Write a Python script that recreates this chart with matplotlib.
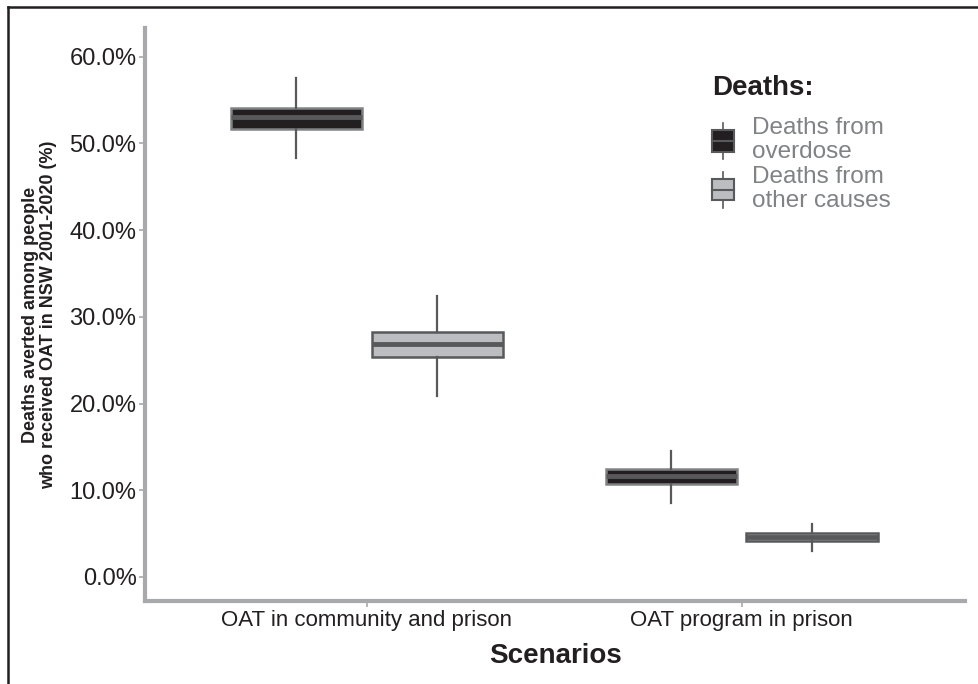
import numpy as np
import matplotlib.pyplot as plt
from matplotlib.patches import Rectangle
from matplotlib.lines import Line2D
from matplotlib.legend_handler import HandlerBase

plt.rcParams['font.family'] = ['Liberation Sans', 'DejaVu Sans']

# ---------------------------------------------------------
# Data (% deaths averted)
# ---------------------------------------------------------
scenarios = ["OAT in community and prison", "OAT program in prison"]
groups = ["Deaths from\noverdose", "Deaths from\nother causes"]

# per group: [scenario1, scenario2]
whisk_lo = [[48.3, 8.5], [20.9, 3.0]]
q1 = [[51.7, 10.7], [25.4, 4.15]]
med = [[53.0, 11.65], [26.9, 4.6]]
q3 = [[54.1, 12.5], [28.3, 5.1]]
whisk_hi = [[57.5, 14.5], [32.4, 6.1]]

fills = ["#231f20", "#bcbdc0"]
edges = ["#808285", "#58595b"]
med_col = "#58595b"
spine_col = "#a7a9ac"
txt_col = "#231f20"

fig = plt.figure(figsize=(9.79, 6.84), dpi=100)
ax = fig.add_axes([0.148, 0.121, 0.838, 0.838])

offsets = [-0.188, 0.188]
bw = 0.35
for g in range(2):
    stats = []
    for s in range(2):
        stats.append(dict(whislo=whisk_lo[g][s], q1=q1[g][s], med=med[g][s],
                          q3=q3[g][s], whishi=whisk_hi[g][s], fliers=[]))
    pos = [s + 1 + offsets[g] for s in range(2)]
    ax.bxp(stats, positions=pos, widths=bw, showcaps=False, patch_artist=True,
           boxprops=dict(facecolor=fills[g], edgecolor=edges[g], linewidth=1.8),
           medianprops=dict(color=med_col, linewidth=3.5),
           whiskerprops=dict(color=med_col, linewidth=1.6), manage_ticks=False)

ax.set_xlim(0.408, 2.597)
ax.set_ylim(-2.8, 63.3)
ax.set_xticks([1, 2])
ax.set_xticklabels(scenarios, fontsize=16, color=txt_col)
yt = np.arange(0, 61, 10)
ax.set_yticks(yt)
ax.set_yticklabels(["%.1f%%" % v for v in yt], fontsize=17, color=txt_col)
ax.tick_params(axis='both', color=spine_col, length=4, width=1.2, pad=2)

for sp in ["top", "right"]:
    ax.spines[sp].set_visible(False)
for sp in ["left", "bottom"]:
    ax.spines[sp].set_color(spine_col)
    ax.spines[sp].set_linewidth(3)

ax.set_xlabel("Scenarios", fontsize=20, fontweight="bold", color=txt_col, labelpad=9)
ax.set_ylabel("Deaths averted among people\nwho received OAT in NSW 2001-2020 (%)",
              fontsize=13, fontweight="bold", color=txt_col, labelpad=9,
              linespacing=1.05)


class BoxHandler(HandlerBase):
    def create_artists(self, legend, orig_handle, xdescent, ydescent,
                       width, height, fontsize, trans):
        fc = orig_handle.get_facecolor()
        cx = width / 2 - xdescent
        bx0 = -xdescent
        by0 = -ydescent + height * 0.2
        bh = height * 0.6
        rect = Rectangle((bx0, by0), width, bh, facecolor=fc, edgecolor="#58595b",
                         lw=1.5, transform=trans)
        mline = Line2D([bx0, bx0 + width], [by0 + bh / 2] * 2, color="#58595b", lw=1.5,
                       transform=trans)
        w1 = Line2D([cx, cx], [-ydescent, by0], color="#58595b", lw=1.2, transform=trans)
        w2 = Line2D([cx, cx], [by0 + bh, -ydescent + height], color="#58595b", lw=1.2,
                    transform=trans)
        return [w1, w2, rect, mline]


handles = [Rectangle((0, 0), 1, 1, facecolor=c) for c in fills]
leg = ax.legend(handles, groups, handler_map={Rectangle: BoxHandler()},
                loc="upper left", bbox_to_anchor=(0.671, 0.947), frameon=False,
                title="Deaths:", fontsize=17.5, handlelength=0.9, handleheight=1.9,
                handletextpad=0.75, labelspacing=0.1, labelcolor="#808285",
                borderpad=0.2)
for t in leg.get_texts():
    t.set_linespacing(1.15)
leg.get_title().set_fontsize(20)
leg.get_title().set_fontweight("bold")
leg.get_title().set_color(txt_col)
leg._legend_box.align = "left"
leg._legend_box.sep = 11

# figure border (left and top)
fig.add_artist(Line2D([0.0082, 0.0082], [0.0, 0.9898], color="#231f20", lw=1.8,
                      transform=fig.transFigure))
fig.add_artist(Line2D([0.0082, 1.0], [0.9898, 0.9898], color="#231f20", lw=1.8,
                      transform=fig.transFigure))

fig.savefig("out.png", dpi=100)
